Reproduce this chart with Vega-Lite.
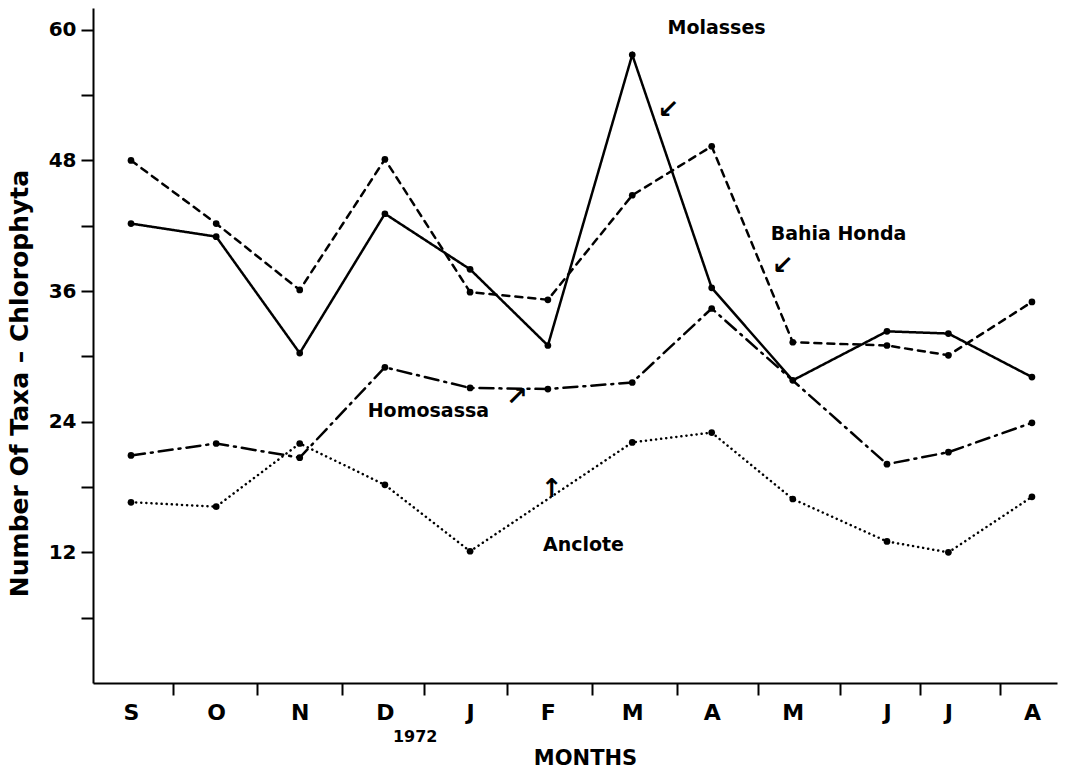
{
  "$schema": "https://vega.github.io/schema/vega-lite/v6.json",
  "width": 964,
  "height": 675,
  "autosize": {"type": "none"},
  "padding": {"left": 93, "top": 8, "right": 10, "bottom": 90},
  "background": "white",
  "config": {
    "view": {"stroke": null},
    "font": "DejaVu Sans",
    "axis": {"grid": false, "domainColor": "black", "tickColor": "black", "labelColor": "black", "titleColor": "black", "domainWidth": 2, "tickWidth": 2}
  },
  "datasets": {
    "series": [
      {"site": "Molasses", "m": 0, "v": 42.2},
      {"site": "Molasses", "m": 1.04, "v": 41.0},
      {"site": "Molasses", "m": 2.06, "v": 30.3},
      {"site": "Molasses", "m": 3.10, "v": 43.1},
      {"site": "Molasses", "m": 4.14, "v": 38.0},
      {"site": "Molasses", "m": 5.09, "v": 31.0},
      {"site": "Molasses", "m": 6.12, "v": 57.7},
      {"site": "Molasses", "m": 7.09, "v": 36.3},
      {"site": "Molasses", "m": 8.08, "v": 27.8},
      {"site": "Molasses", "m": 9.23, "v": 32.3},
      {"site": "Molasses", "m": 9.98, "v": 32.1},
      {"site": "Molasses", "m": 11, "v": 28.1},
      {"site": "Bahia Honda", "m": 0, "v": 48.0},
      {"site": "Bahia Honda", "m": 1.04, "v": 42.2},
      {"site": "Bahia Honda", "m": 2.06, "v": 36.1},
      {"site": "Bahia Honda", "m": 3.10, "v": 48.1},
      {"site": "Bahia Honda", "m": 4.14, "v": 35.9},
      {"site": "Bahia Honda", "m": 5.09, "v": 35.2},
      {"site": "Bahia Honda", "m": 6.12, "v": 44.8},
      {"site": "Bahia Honda", "m": 7.09, "v": 49.3},
      {"site": "Bahia Honda", "m": 8.08, "v": 31.3},
      {"site": "Bahia Honda", "m": 9.23, "v": 31.0},
      {"site": "Bahia Honda", "m": 9.98, "v": 30.1},
      {"site": "Bahia Honda", "m": 11, "v": 35.0},
      {"site": "Homosassa", "m": 0, "v": 20.9},
      {"site": "Homosassa", "m": 1.04, "v": 22.0},
      {"site": "Homosassa", "m": 2.06, "v": 20.7},
      {"site": "Homosassa", "m": 3.10, "v": 29.0},
      {"site": "Homosassa", "m": 4.14, "v": 27.1},
      {"site": "Homosassa", "m": 5.09, "v": 27.0},
      {"site": "Homosassa", "m": 6.12, "v": 27.6},
      {"site": "Homosassa", "m": 7.09, "v": 34.4},
      {"site": "Homosassa", "m": 9.23, "v": 20.1},
      {"site": "Homosassa", "m": 9.98, "v": 21.2},
      {"site": "Homosassa", "m": 11, "v": 23.9},
      {"site": "Anclote", "m": 0, "v": 16.6},
      {"site": "Anclote", "m": 1.04, "v": 16.2},
      {"site": "Anclote", "m": 2.06, "v": 22.0},
      {"site": "Anclote", "m": 3.10, "v": 18.2},
      {"site": "Anclote", "m": 4.14, "v": 12.1},
      {"site": "Anclote", "m": 6.12, "v": 22.1},
      {"site": "Anclote", "m": 7.09, "v": 23.0},
      {"site": "Anclote", "m": 8.08, "v": 16.9},
      {"site": "Anclote", "m": 9.23, "v": 13.0},
      {"site": "Anclote", "m": 9.98, "v": 12.0},
      {"site": "Anclote", "m": 11, "v": 17.1}
    ],
    "labels": [
      {"x": 6.55, "y": 60.2, "text": "Molasses"},
      {"x": 7.81, "y": 41.2, "text": "Bahia Honda"},
      {"x": 2.89, "y": 25.0, "text": "Homosassa"},
      {"x": 5.03, "y": 12.7, "text": "Anclote"}
    ],
    "arrows": [
      {"x": 6.56, "y": 52.6, "text": "↙"},
      {"x": 7.96, "y": 38.3, "text": "↙"},
      {"x": 4.71, "y": 26.3, "text": "↗"},
      {"x": 5.14, "y": 17.8, "text": "↑"}
    ],
    "year": [
      {"x": 3.47, "y": -5.0, "text": "1972"}
    ]
  },
  "layer": [
    {
      "data": {"name": "series"},
      "mark": {"type": "line", "color": "black", "strokeWidth": 2.5, "strokeCap": "round"},
      "encoding": {
        "x": {
          "field": "m", "type": "quantitative",
          "scale": {"domain": [-0.464, 11.306], "nice": false, "zero": false},
          "axis": {
            "values": [0, 0.51, 1.04, 1.54, 2.06, 2.58, 3.10, 3.58, 4.14, 4.59, 5.09, 5.63, 6.12, 6.67, 7.09, 7.66, 8.08, 8.66, 9.23, 9.63, 9.98, 10.61, 11],
            "labelExpr": "abs(datum.value - round(datum.value)) < 0.3 ? ['S','O','N','D','J','F','M','A','M','J','J','A'][round(datum.value)] : ''",
            "tickOpacity": {"condition": {"test": "abs(datum.value - round(datum.value)) < 0.3", "value": 0}, "value": 1},
            "tickSize": 12,
            "labelPadding": 7,
            "labelFontSize": 22,
            "labelFontWeight": "bold",
            "labelOverlap": false,
            "labelFlush": false,
            "title": "MONTHS",
            "titleFontSize": 21,
            "titleFontWeight": "bold",
            "titleX": 492,
            "titleY": 75,
            "titleBaseline": "middle",
            "titleAlign": "center"
          }
        },
        "y": {
          "field": "v", "type": "quantitative",
          "scale": {"domain": [0, 62], "nice": false},
          "axis": {
            "values": [6, 12, 18, 24, 30, 36, 42, 48, 54, 60],
            "labelExpr": "datum.value % 12 === 0 ? datum.label : ''",
            "tickSize": 12,
            "labelPadding": 5,
            "labelFontSize": 20,
            "labelFontWeight": "bold",
            "labelOverlap": false,
            "title": "Number Of Taxa – Chlorophyta",
            "titleFontSize": 25,
            "titleFontWeight": "bold",
            "titleAngle": 270,
            "titleX": -74,
            "titleY": 375,
            "titleBaseline": "middle",
            "titleAlign": "center"
          }
        },
        "detail": {"field": "site"},
        "strokeDash": {
          "field": "site", "type": "nominal",
          "scale": {"domain": ["Molasses", "Bahia Honda", "Homosassa", "Anclote"], "range": [[1, 0], [7, 6], [14, 6, 2, 6], [0.1, 5]]},
          "legend": null
        },
        "strokeWidth": {
          "field": "site", "type": "nominal",
          "scale": {"domain": ["Molasses", "Bahia Honda", "Homosassa", "Anclote"], "range": [3.2, 2, 2.5, 3.2]},
          "legend": null
        }
      }
    },
    {
      "data": {"name": "series"},
      "mark": {"type": "point", "filled": true, "color": "black", "opacity": 1, "size": 45},
      "encoding": {
        "x": {"field": "m", "type": "quantitative"},
        "y": {"field": "v", "type": "quantitative"}
      }
    },
    {
      "data": {"name": "labels"},
      "mark": {"type": "text", "fontSize": 19, "fontWeight": "bold", "align": "left", "baseline": "middle", "color": "black"},
      "encoding": {
        "x": {"field": "x", "type": "quantitative"},
        "y": {"field": "y", "type": "quantitative"},
        "text": {"field": "text"}
      }
    },
    {
      "data": {"name": "arrows"},
      "mark": {"type": "text", "fontSize": 26, "fontWeight": "bold", "align": "center", "baseline": "middle", "color": "black"},
      "encoding": {
        "x": {"field": "x", "type": "quantitative"},
        "y": {"field": "y", "type": "quantitative"},
        "text": {"field": "text"}
      }
    },
    {
      "data": {"name": "year"},
      "mark": {"type": "text", "fontSize": 16, "fontWeight": "bold", "align": "center", "baseline": "middle", "color": "black"},
      "encoding": {
        "x": {"field": "x", "type": "quantitative"},
        "y": {"field": "y", "type": "quantitative"},
        "text": {"field": "text"}
      }
    }
  ]
}
